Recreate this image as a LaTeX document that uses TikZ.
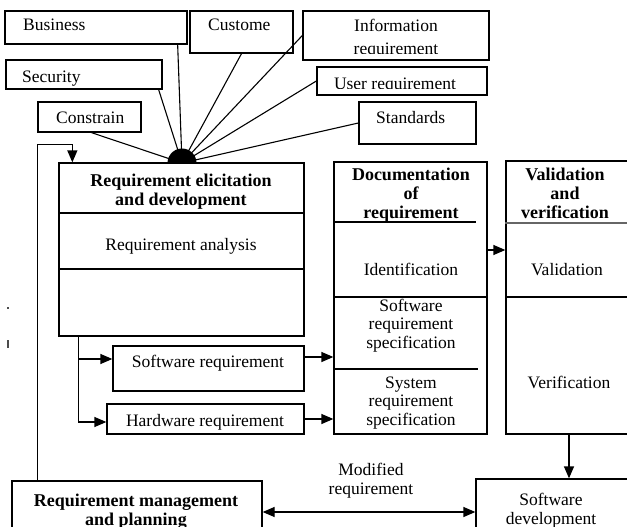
\documentclass[tikz,border=0pt]{standalone}
\usepackage{fontspec}
\setmainfont{Liberation Serif}
\usetikzlibrary{arrows.meta,fit}
\begin{document}
\begin{tikzpicture}[x=1pt,y=-1pt,
  box/.style={draw, line width=1.3pt, inner sep=0pt, fit={#1}},
  txt/.style={anchor=base, inner sep=0pt, align=center, font=\fontsize{17.5}{18.5}\selectfont},
  ttl/.style={txt, font=\fontsize{18}{19}\selectfont\bfseries},
  ltxt/.style={txt, anchor=base west},
  conn/.style={line width=1.1pt},
  arr/.style={line width=1.3pt, -{Triangle[length=12pt,width=10pt]}},
  darr/.style={line width=1.3pt, {Triangle[length=12pt,width=10pt]}-{Triangle[length=12pt,width=10pt]}},
  split/.style={line width=1.3pt}
]
\path[use as bounding box] (0,0) rectangle (627,527);
\clip (0,0) rectangle (627,527);

% source boxes along the top
\node[box={(5,11) (187,44)}]    (business)  {};
\node[box={(190,11) (293,53)}]  (customer)  {};
\node[box={(303,11) (489,60)}]  (info)      {};
\node[box={(6,60) (162,89)}]    (security)  {};
\node[box={(317,67) (487,95)}]  (userreq)   {};
\node[box={(38,102) (141,132)}] (constrain) {};
\node[box={(359,102) (476,144)}](standards) {};

\node[ltxt] (tbusiness)  at (23,31)  {Business};
\node[ltxt] (tcustomer)  at (208,31) {Custome};
\node[ltxt] (tsecurity)  at (22,82)  {Security};
\node[ltxt] (tconstrain) at (56,123) {Constrain};
\node[ltxt] (tstandards) at (376,123) {Standards};
\node[txt]  (tinfo)      at (396,32) {Information};
\begin{scope}
  \clip (info.north west) rectangle ([yshift=7pt]info.south east);
  \node[txt] (tinfo2) at (396,55) {requirement};
\end{scope}
\begin{scope}
  \clip (userreq.north west) rectangle ([yshift=7pt]userreq.south east);
  \node[txt] (tuser) at (395,89) {User requirement};
\end{scope}

% main stage boxes
\node[box={(59,163) (304,336)}]  (main) {};
\node[box={(334,162) (487,434)}] (doc)  {};
\node[box={(506,161) (630,434)}] (val)  {};
\node[box={(113,346) (304,391)}] (sw)   {};
\node[box={(107,404) (304,434)}] (hw)   {};
\node[box={(12,481) (262,540)}]  (mgmt) {};
\node[box={(476,479) (630,540)}] (swdev){};

% hub where all sources meet
\begin{scope}
  \clip (150,130) rectangle (215,163);
  \node[circle, fill, minimum size=29pt, inner sep=0pt] (hub) at (182,163) {};
\end{scope}
\draw[conn] ([xshift=-10pt]business.south east) -- (hub.center);
\draw[conn] (customer.south) -- (hub.center);
\draw[conn] (info.west) -- (hub.center);
\draw[conn] ([xshift=-4pt]security.south east) -- (hub.center);
\draw[conn] (userreq.west) -- (hub.center);
\draw[conn] ([xshift=2pt]constrain.south) -- (hub.center);
\draw[conn] (standards.west) -- (hub.center);

% compartments
\draw[split] (main.west |- 0,213) -- (main.east |- 0,213);
\draw[split] (main.west |- 0,269) -- (main.east |- 0,269);
\draw[split] (doc.west |- 0,222) -- (476,222);
\draw[split] (doc.west |- 0,297) -- (doc.east |- 0,297);
\draw[split] (doc.west |- 0,369) -- (478,369);
\draw[line width=2.2pt, black!60] (val.west |- 0,223) -- (val.east |- 0,223);
\draw[split] (val.west |- 0,297) -- (val.east |- 0,297);

% texts of the stages (multi-line texts sit on their last line)
\node[ttl] (tmain)  at (181,205) {Requirement elicitation\\and development};
\node[txt] (tanal)  at (181,250) {Requirement analysis};
\node[ttl] (tdoc)   at (411,218) {Documentation\\of\\requirement};
\node[txt] (tident) at (411,275) {Identification};
\node[txt] (tsrs)   at (411,348) {Software\\requirement\\specification};
\node[txt] (tsys)   at (411,425) {System\\requirement\\specification};
\node[ttl] (tval)   at (565,218) {Validation\\and\\verification};
\node[txt] (tvalid) at (567,275) {Validation};
\node[txt] (tverif) at (569,388) {Verification};
\node[txt] (tsw)    at (208,367) {Software requirement};
\node[txt] (thw)    at (205,426) {Hardware requirement};
\node[ttl] (tmgmt)  at (136,525) {Requirement management\\and planning};
\node[txt] (tdev)   at (551,524) {Software\\development};
\node[txt] (tmod)   at (371,494) {Modified\\requirement};

% flow
\draw[arr] ([xshift=26pt]mgmt.north west) -- ++(0,-336) -- ++(35,0) -- ([xshift=14pt]main.north west);
\draw[arr] ([xshift=20pt]main.south west) |- ([yshift=9.5pt]sw.west);
\draw[arr] ([xshift=20pt]main.south west) |- ([yshift=-3pt]hw.west);
\draw[arr] ([yshift=11.5pt]sw.east) -- ([yshift=11.5pt]sw.east -| doc.west);
\draw[arr] (hw.east) -- (hw.east -| doc.west);
\draw[arr] (doc.east |- 0,250) -- (val.west |- 0,250);
\draw[arr] (val.south -| 569,0) -- (swdev.north -| 569,0);
\draw[darr] (mgmt.east |- 0,512) -- (swdev.west |- 0,512);

% small marks at the left margin
\fill[black!70] (7,307) rectangle (9,309);
\fill[black!70] (7,340) rectangle (9,348);
\end{tikzpicture}
\end{document}
